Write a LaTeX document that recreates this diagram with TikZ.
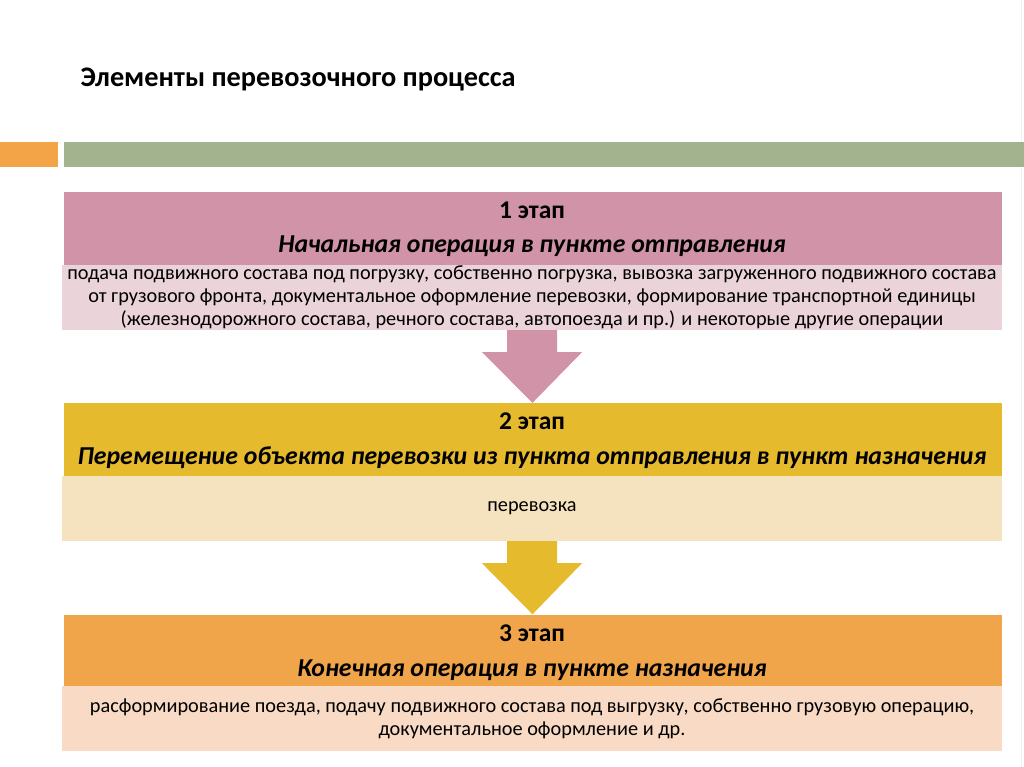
\documentclass[tikz,border=0pt]{standalone}
\usepackage{fontspec}
\setmainfont{Carlito}
\usepackage{xcolor}
\usepackage{tikz}
\usetikzlibrary{calc}
\definecolor{barorange}{RGB}{242, 164, 70}
\definecolor{bargreen}{RGB}{163, 179, 142}
\definecolor{headpink}{RGB}{208, 147, 167}
\definecolor{bodypink}{RGB}{235, 211, 218}
\definecolor{headgold}{RGB}{229, 186, 45}
\definecolor{bodygold}{RGB}{245, 227, 192}
\definecolor{headorange}{RGB}{241, 165, 74}
\definecolor{bodyorange}{RGB}{249, 219, 197}

\tikzset{
  headbox/.style={minimum width=938pt, minimum height=73pt, inner sep=0pt},
  bodybox/.style={minimum width=940pt, minimum height=65pt, inner sep=0pt, align=center,
    font=\fontsize{20.3}{23}\selectfont},
  stagenum/.style={font=\bfseries\fontsize{25.5}{28}\selectfont},
  stagename/.style={font=\bfseries\itshape\fontsize{25.8}{28}\selectfont}
}

\begin{document}
\begin{tikzpicture}[x=1pt, y=-1pt]
\useasboundingbox (0,0) rectangle (1024,767);
\draw[gray!12] (1021,0) -- (1021,767);

% Title and bars
\node[anchor=west, font=\bfseries\fontsize{28.3}{32}\selectfont] (title) at (77,80) {Элементы перевозочного процесса};
\fill[barorange] (0,142) rectangle (58,167);
\fill[bargreen] (64,142) rectangle (1024,167);

% Stage 1
\node[headbox, fill=headpink] (head1) at (532.5,228.5) {};
\node[stagenum] (num1) at (532,210) {1 этап};
\node[stagename] (name1) at (532,246) {Начальная операция в пункте отправления};
\node[bodybox, fill=bodypink] (body1) at (532,297.5) {подача подвижного состава под погрузку, собственно погрузка, вывозка загруженного подвижного состава\\
от грузового фронта, документальное оформление перевозки, формирование транспортной единицы\\
(железнодорожного состава, речного состава, автопоезда и пр.) и некоторые другие операции};

% Stage 2
\node[headbox, fill=headgold] (head2) at (532.5,439.5) {};
\node[stagenum] (num2) at (532,421) {2 этап};
\node[stagename] (name2) at (532,458) {Перемещение объекта перевозки из пункта отправления в пункт назначения};
\node[bodybox, fill=bodygold] (body2) at (532,508.5) {перевозка};

% Stage 3
\node[headbox, fill=headorange] (head3) at (532.5,651) {};
\node[stagenum] (num3) at (532,633) {3 этап};
\node[stagename] (name3) at (532,670) {Конечная операция в пункте назначения};
\node[bodybox, fill=bodyorange] (body3) at (532,718.5) {расформирование поезда, подачу подвижного состава под выгрузку, собственно грузовую операцию,\\
документальное оформление и др.};

% Arrows between stages
\fill[headpink] ($(body1.south)+(-25,0)$) -- ($(body1.south)+(25,0)$) -- ($(body1.south)+(25,22)$)
  -- ($(body1.south)+(50,22)$) -- (head2.north) -- ($(body1.south)+(-50,22)$)
  -- ($(body1.south)+(-25,22)$) -- cycle;
\fill[headgold] ($(body2.south)+(-25,0)$) -- ($(body2.south)+(25,0)$) -- ($(body2.south)+(25,22)$)
  -- ($(body2.south)+(50,22)$) -- (head3.north) -- ($(body2.south)+(-50,22)$)
  -- ($(body2.south)+(-25,22)$) -- cycle;
\end{tikzpicture}
\end{document}
